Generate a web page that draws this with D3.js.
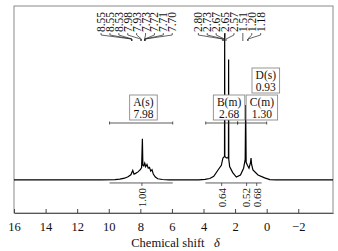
<!DOCTYPE html>
<html>
<head>
<meta charset="utf-8">
<script src="https://cdn.jsdelivr.net/npm/d3@7"></script>
<style>
body { margin: 0; background: #fff; }
svg text { font-family: "Liberation Serif", "DejaVu Serif", serif; }
</style>
</head>
<body>
<div id="wrapper"></div>
<script>
// spectrum: [chemical shift, intensity]
const spectrum = [
    [16, 0], [10.5, 0], [9.6, 0.2], [9.3, 0.6], [9.0, 1.2], [8.78, 2.2], [8.6, 3.5],
    [8.48, 6.5], [8.4, 4], [8.3, 4.5], [8.15, 5.5], [8.0, 7], [7.92, 8.5], [7.87, 28],
    [7.84, 10], [7.78, 9.5], [7.72, 11.5], [7.66, 9], [7.58, 10.5], [7.5, 8], [7.42, 8.5],
    [7.34, 6], [7.26, 7], [7.18, 4], [7.05, 2], [6.9, 0.8], [6.6, 0.3], [6.2, 0],
    [4.3, 0], [3.9, 0.4], [3.6, 1], [3.35, 2.5], [3.08, 6.8], [2.87, 10], [2.77, 15],
    [2.67, 16], [2.66, 100], [2.65, 16], [2.55, 15], [2.45, 15], [2.42, 16], [2.41, 82],
    [2.40, 14], [2.34, 9], [2.15, 5], [1.92, 2], [1.66, 3.4], [1.46, 8], [1.36, 14],
    [1.33, 51], [1.30, 12], [1.22, 10], [1.12, 8], [1.02, 12], [0.99, 15], [0.96, 11],
    [0.87, 6.8], [0.55, 3.4], [0.13, 1.4], [-0.2, 0.2], [-0.6, 0], [-4.2, 0]
];

const peaksA = [8.55, 8.55, 8.53, 7.98, 7.93, 7.73, 7.72, 7.71, 7.70];
const peaksBC = [2.80, 2.73, 2.67, 2.65, 2.57, 1.51, 1.20, 1.18];

const annoNames = ["A(s)", "B(m)", "C(m)", "D(s)"];
const annoShifts = [7.98, 2.68, 1.30, 0.93];

const annoRanges = [[9.95, 5.95], [3.86, 1.84], [1.84, 0.0]];

const integralRanges = [[9.95, 5.95], [3.88, 0.32]];
const integralShifts = [7.9, 2.85, 1.27, 0.63];
const integralValues = [1.00, 0.64, 0.52, 0.68];

const xTicks = [16, 14, 12, 10, 8, 6, 4, 2, 0, -2];

const dimension = {
    width: 338,
    height: 251,
    margin: { top: 6, left: 14, bottom: 38, right: 5 }
};
dimension.boundedWidth = dimension.width - dimension.margin.left - dimension.margin.right;
dimension.boundedHeight = dimension.height - dimension.margin.top - dimension.margin.bottom;

const svg = d3.select("#wrapper").append("svg")
    .attr("width", dimension.width)
    .attr("height", dimension.height);

const bounded = svg.append("g")
    .attr("transform", `translate(${dimension.margin.left},${dimension.margin.top})`);

const xScaler = d3.scaleLinear()
    .domain([16, -4.2])
    .range([0, dimension.boundedWidth]);

const yScaler = d3.scaleLinear()
    .domain([-22.5, 118.5])
    .range([dimension.boundedHeight, 0]);

const xAccessor = d => d[0];
const yAccessor = d => d[1];

// frame
bounded.append("rect")
    .attr("width", dimension.boundedWidth)
    .attr("height", dimension.boundedHeight)
    .attr("fill", "none")
    .attr("stroke", "#8a8a8a")
    .attr("stroke-width", 1);

// x axis, ticks inside
const xAxis = d3.axisBottom(xScaler)
    .tickValues(xTicks)
    .tickSizeInner(-4)
    .tickSizeOuter(0)
    .tickPadding(9)
    .tickFormat(d => d < 0 ? "\u2212" + Math.abs(d) : d);

const xg = bounded.append("g")
    .attr("transform", `translate(0,${dimension.boundedHeight})`)
    .call(xAxis);
xg.select(".domain").attr("stroke", "#555");
xg.selectAll(".tick line").attr("stroke", "#444");
xg.selectAll(".tick text")
    .style("font-size", "12.5px")
    .style("font-family", "Liberation Serif")
    .attr("fill", "#111");

const title = bounded.append("text")
    .attr("x", dimension.boundedWidth / 2 + 2)
    .attr("y", dimension.boundedHeight + 34)
    .attr("text-anchor", "middle")
    .style("font-size", "12.5px")
    .attr("fill", "#111");
title.append("tspan").text("Chemical shift\u00a0\u00a0\u00a0");
title.append("tspan").style("font-style", "italic").text("\u03b4");

// spectrum line
const lineGenerator = d3.line()
    .x(d => xScaler(xAccessor(d)))
    .y(d => yScaler(yAccessor(d)));

bounded.append("path")
    .attr("d", lineGenerator(spectrum))
    .attr("fill", "none")
    .attr("stroke", "#000")
    .attr("stroke-width", 1.2)
    .attr("stroke-linejoin", "miter");

// integration lines under baseline
const integY = yScaler(0) + 3;
integralRanges.forEach(r => {
    bounded.append("line")
        .attr("x1", xScaler(r[0])).attr("x2", xScaler(r[1]))
        .attr("y1", integY).attr("y2", integY)
        .attr("stroke", "#333").attr("stroke-width", 0.8);
});
integralShifts.forEach((s, i) => {
    const x = xScaler(s);
    bounded.append("line")
        .attr("x1", x).attr("x2", x)
        .attr("y1", integY).attr("y2", integY + 3)
        .attr("stroke", "#333").attr("stroke-width", 0.8);
    bounded.append("text")
        .attr("transform", `translate(${x},${integY + 5})rotate(-90)`)
        .attr("text-anchor", "end")
        .attr("dy", "0.35em")
        .style("font-size", "11px")
        .attr("fill", "#222")
        .text(integralValues[i].toFixed(2));
});

// annotation ranges above the peaks
const rangeY = 117;
annoRanges.forEach(r => {
    const x1 = xScaler(r[0]), x2 = xScaler(r[1]);
    bounded.append("line")
        .attr("x1", x1).attr("x2", x2)
        .attr("y1", rangeY).attr("y2", rangeY)
        .attr("stroke", "#333").attr("stroke-width", 0.8);
    [x1, x2].forEach(x => {
        bounded.append("line")
            .attr("x1", x).attr("x2", x)
            .attr("y1", rangeY - 1.5).attr("y2", rangeY + 1.5)
            .attr("stroke", "#333").attr("stroke-width", 0.8);
    });
});

// annotation boxes
const boxDx = [-11, -11, 0, 0];
const boxTop = [89, 89, 89, 62];
annoNames.forEach((name, i) => {
    const g = bounded.append("g");
    const left = xScaler(annoShifts[i]) + boxDx[i];
    const t = g.append("text")
        .attr("text-anchor", "middle")
        .style("font-size", "11.5px")
        .attr("fill", "#111");
    t.append("tspan").attr("x", 0).attr("y", 11).text(name);
    t.append("tspan").attr("x", 0).attr("y", 23).text(annoShifts[i].toFixed(2));
    const bb = t.node().getBBox();
    const w = bb.width + 7;
    g.insert("rect", "text")
        .attr("x", -w / 2).attr("y", 0)
        .attr("width", w).attr("height", 25)
        .attr("fill", "#fff")
        .attr("stroke", "#8a8a8a")
        .attr("stroke-width", 0.9);
    g.attr("transform", `translate(${left + w / 2},${boxTop[i]})`);
});

// peak labels at top with connector lines
const labelSpacing = 8.9;
const labelBottom = 26;
function drawPeakLabels(peaks) {
    const xs = peaks.map(p => xScaler(p));
    const center = d3.mean(xs) - 3;
    peaks.forEach((p, i) => {
        const lx = center + (i - (peaks.length - 1) / 2) * labelSpacing;
        bounded.append("text")
            .attr("transform", `translate(${lx},${labelBottom})rotate(-90)`)
            .attr("dy", "0.35em")
            .style("font-size", "11.5px")
            .attr("fill", "#111")
            .text(p.toFixed(2));
        bounded.append("path")
            .attr("d", `M${lx},${labelBottom + 1}L${lx},${labelBottom + 3}L${xs[i]},${labelBottom + 7}L${xs[i]},${labelBottom + 9}`)
            .attr("fill", "none")
            .attr("stroke", "#222")
            .attr("stroke-width", 0.7);
    });
}
drawPeakLabels(peaksA);
drawPeakLabels(peaksBC);
</script>
</body>
</html>
